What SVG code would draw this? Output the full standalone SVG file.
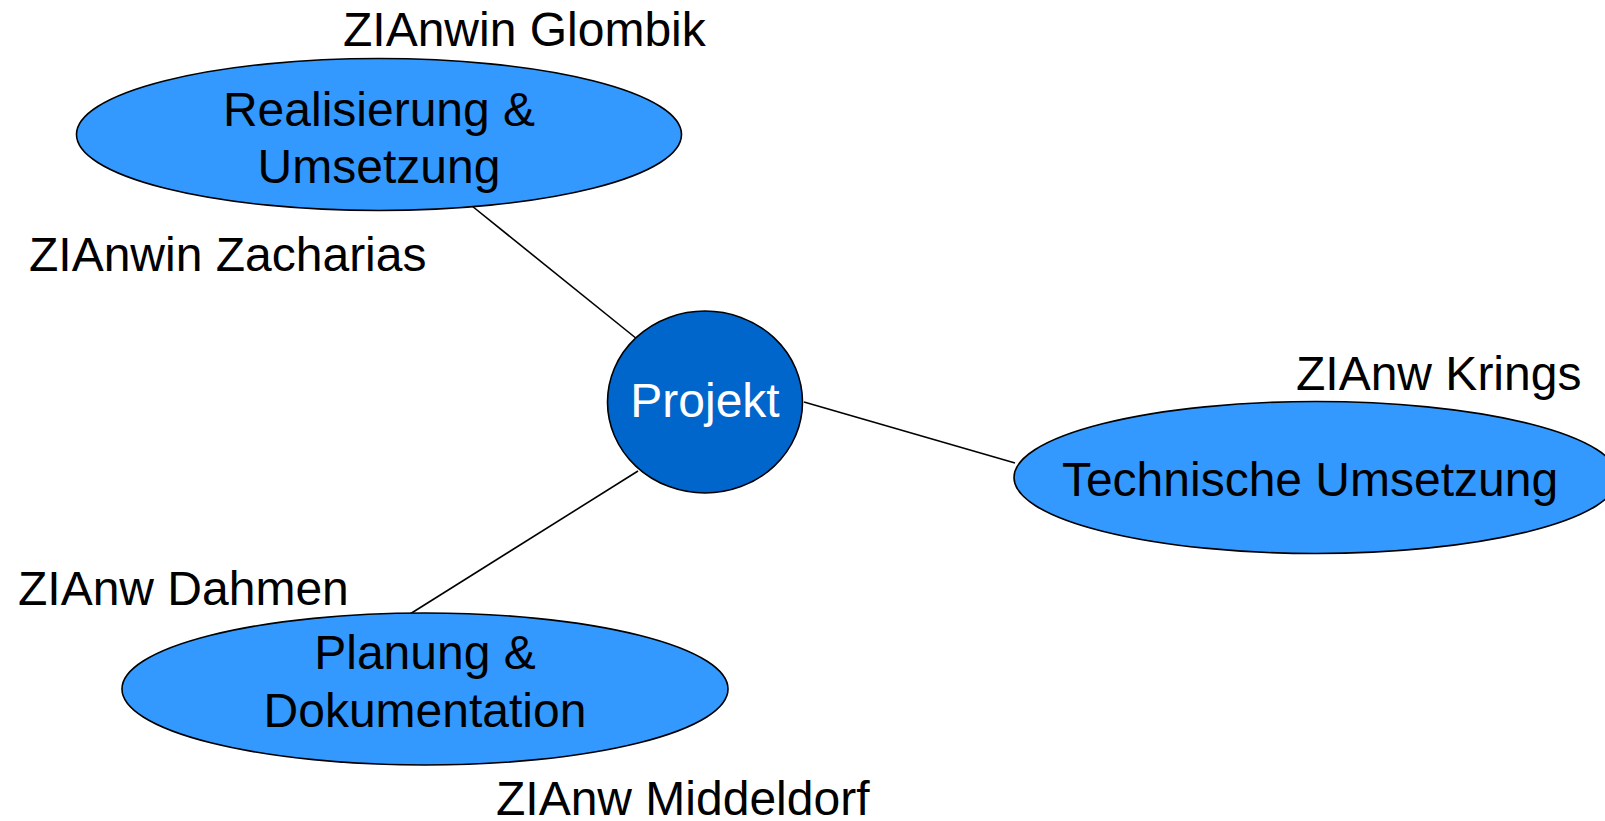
<svg xmlns="http://www.w3.org/2000/svg" width="1605" height="821" viewBox="0 0 1605 821">
<style>
.n{fill:#3399FF;stroke:#000;stroke-width:1.6}
.c{fill:#0066CC;stroke:#000;stroke-width:1.6}
.t{font-family:"Liberation Sans",Arial,sans-serif;font-size:48px;fill:#000}
.m{text-anchor:middle}
.w{fill:#fff}
.e{stroke:#000;stroke-width:1.6;fill:none}
</style>
<rect width="1605" height="821" fill="#fff"/>
<g id="connectors">
<line class="e" x1="472" y1="206" x2="637" y2="339"/>
<line class="e" x1="804" y1="402" x2="1015" y2="463"/>
<line class="e" x1="638" y1="471" x2="410" y2="614"/>
</g>
<g id="realisierung">
<ellipse class="n" cx="379" cy="134.5" rx="302.5" ry="76"/>
<text class="t m" x="379" y="126">Realisierung &amp;</text>
<text class="t m" x="379" y="183">Umsetzung</text>
</g>
<g id="projekt">
<ellipse class="c" cx="705" cy="402" rx="97.5" ry="91"/>
<text class="t m w" x="705" y="417">Projekt</text>
</g>
<g id="technische">
<ellipse class="n" cx="1316" cy="477.5" rx="302" ry="76"/>
<text class="t m" x="1310" y="496">Technische Umsetzung</text>
</g>
<g id="planung">
<ellipse class="n" cx="425" cy="689" rx="303" ry="76"/>
<text class="t m" x="425" y="669">Planung &amp;</text>
<text class="t m" x="425" y="727">Dokumentation</text>
</g>
<g id="labels">
<text class="t" x="343" y="46">ZIAnwin Glombik</text>
<text class="t" x="29" y="271">ZIAnwin Zacharias</text>
<text class="t" x="1296" y="390">ZIAnw Krings</text>
<text class="t" x="18" y="605">ZIAnw Dahmen</text>
<text class="t" x="496" y="815">ZIAnw Middeldorf</text>
</g>
</svg>
